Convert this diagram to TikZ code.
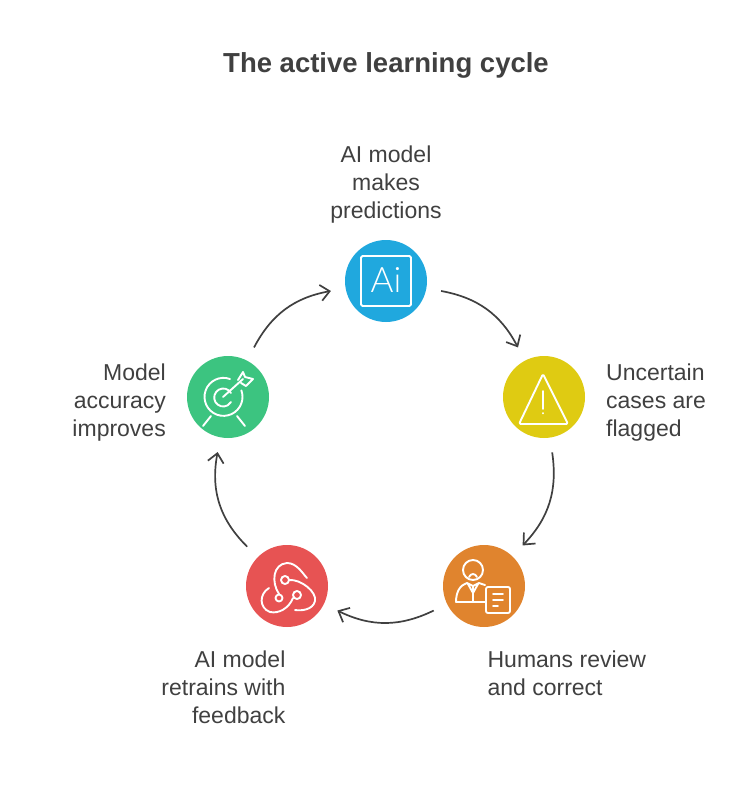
\documentclass[tikz,border=0pt]{standalone}
\usepackage{fontspec}
\setmainfont{Liberation Sans}
\newfontfamily\iconfont{Lato Light}
\usetikzlibrary{arrows.meta,positioning}
\definecolor{inkgrey}{HTML}{404040}
\definecolor{aiblue}{HTML}{20A8DE}
\definecolor{warnyellow}{HTML}{DFCB12}
\definecolor{humanorange}{HTML}{E0842E}
\definecolor{retrainred}{HTML}{E75353}
\definecolor{targetgreen}{HTML}{3CC480}

\begin{document}
\begin{tikzpicture}[
  x=1pt,y=-1pt,
  node distance=10pt and 21pt,
  stage/.style={circle,minimum size=82pt,inner sep=0pt,outer sep=15pt},
  caption/.style={inner sep=0pt,text=inkgrey,font=\fontsize{23}{28}\selectfont},
  flow/.style={-{Straight Barb[length=9pt,width=16pt]},line width=1.7pt,draw=inkgrey},
  icon/.style={draw=white,line width=1.9pt,line cap=round,line join=round}
]
\useasboundingbox (0,0) rectangle (744,786);
\node[inner sep=0pt,text=inkgrey,font=\fontsize{27.5}{32}\selectfont\bfseries] (title) at (386,65) {The active learning cycle};
% five stages round the ring
\fill[aiblue] (386,281) circle (41);
\fill[warnyellow] (544,397) circle (41);
\fill[humanorange] (484,586) circle (41);
\fill[retrainred] (287,586) circle (41);
\fill[targetgreen] (228,397) circle (41);
\node[stage] (predict) at (386,281) {};
\node[stage] (flag) at (544,397) {};
\node[stage] (review) at (484,586) {};
\node[stage] (retrain) at (287,586) {};
\node[stage] (improve) at (228,397) {};
% captions
\node[caption,align=center,above=2pt of predict] (predicttext) {AI model\\makes\\predictions};
\node[caption,align=left,right=6pt of flag,yshift=-6pt] (flagtext) {Uncertain\\cases are\\flagged};
\node[caption,align=left,below=25pt of review.south west,anchor=north west,xshift=43pt] (reviewtext) {Humans review\\and correct};
\node[caption,align=right,below=25pt of retrain.south east,anchor=north east,xshift=-41pt] (retraintext) {AI model\\retrains with\\feedback};
\node[caption,align=right,left=6pt of improve,yshift=-6pt] (improvetext) {Model\\accuracy\\improves};
% ring arrows
\draw[flow] (predict) to[bend left=26] (flag);
\draw[flow] (flag) to[bend left=26] (review);
\draw[flow] (review) to[bend left=26] (retrain);
\draw[flow] (retrain) to[bend left=28] (improve);
\draw[flow] (improve) to[bend left=26] (predict);
% icons
\begin{scope}[shift={(386,281)}]
  \draw[icon,rounded corners=1.5pt] (-25,-25) rectangle (25,25);
  \node[inner sep=0pt,text=white,font=\iconfont\fontsize{35}{35}\selectfont] (aiglyph) at (0,-1) {Ai};
\end{scope}
\begin{scope}[shift={(544,397)}]
  \draw[icon,rounded corners=1.5pt] (-1,-23) -- (24,27) -- (-25,27) -- cycle;
  \draw[icon] (-1,-6) -- (-1,12) (-1,16) -- (-1,16.5);
\end{scope}
\begin{scope}[shift={(484,586)}]
  \draw[icon] (-11,-16) circle (10);
  \draw[icon] (-15,-9) .. controls (-13,-13) and (-9,-13) .. (-7,-9);
  \draw[icon] (1,-1) -- (-5,-3) -- (-11,0) -- (-17,-3) .. controls (-24,-1) and (-28,6) .. (-28,16) -- (1,16);
  \draw[icon] (-11,0) -- (-11,16) (-16,-2) -- (-11,7) -- (-6,-2);
  \draw[icon,rounded corners=2pt] (2,1) rectangle (26,27);
  \draw[icon] (9,8) -- (19,8) (9,14) -- (19,14) (9,20) -- (14,20);
\end{scope}
\begin{scope}[shift={(287,586)}]
  \draw[icon] (-2,-6) circle (4) (-8,12) circle (3.5) (10,9) circle (4);
  \draw[icon] (2,-6) .. controls (14,-7) and (30,6) .. (28,15) .. controls (26,24) and (14,25) .. (8,24);
  \draw[icon] (-8,8) .. controls (-16,-4) and (-14,-22) .. (0,-23) .. controls (10,-23) and (16,-12) .. (20,-8);
  \draw[icon] (-18,2) .. controls (-28,8) and (-28,22) .. (-17,26) .. controls (-8,28) and (2,22) .. (6,12);
\end{scope}
\begin{scope}[shift={(228,397)}]
  \draw[icon] (2,-18) arc[start angle=-70,end angle=-380,radius=19];
  \draw[icon] (3,-4) arc[start angle=-30,end angle=-330,radius=9];
  \draw[icon] (-5,0) -- (15,-18);
  \draw[icon] (10,-17) -- (15,-25) -- (17,-20) -- (25,-18) -- (18,-11) -- (13,-14);
  \draw[icon] (-25,29) -- (-17,19) (17,29) -- (9,19);
\end{scope}
\end{tikzpicture}
\end{document}
